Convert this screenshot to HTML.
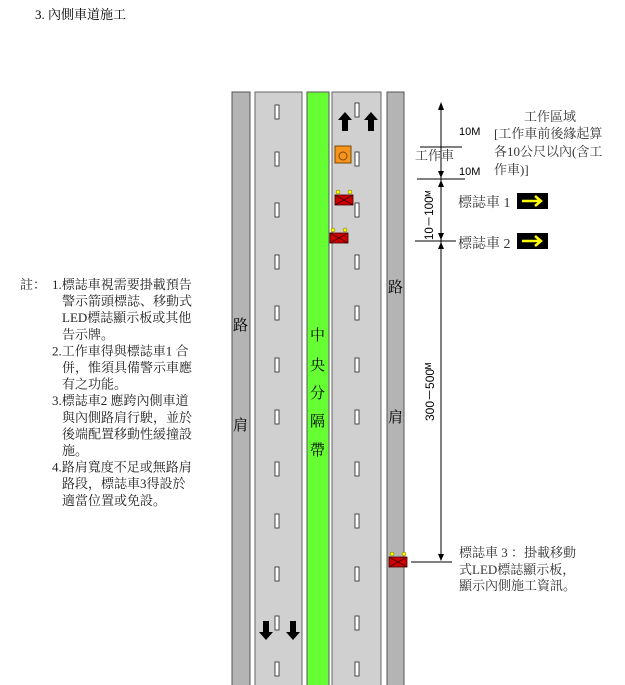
<!DOCTYPE html>
<html><head><meta charset="utf-8"><style>body{margin:0;background:#fff}svg{display:block}text{font-family:"Liberation Serif","Noto Serif CJK SC","Noto Sans CJK TC",serif}</style></head><body>
<svg width="625" height="685" viewBox="0 0 625 685" xmlns="http://www.w3.org/2000/svg">
<text x="35" y="19" font-size="13">3. 內側車道施工</text>
<rect x="232" y="92" width="18" height="600" fill="#b4b4b4" stroke="#555"/>
<rect x="255" y="92" width="47" height="600" fill="#d0d0d0" stroke="#666"/>
<rect x="307" y="92" width="22" height="600" fill="#66ff33" stroke="#555"/>
<rect x="332" y="92" width="49" height="600" fill="#d0d0d0" stroke="#666"/>
<rect x="387" y="92" width="17" height="600" fill="#b4b4b4" stroke="#555"/>
<g fill="#fff" stroke="#222" stroke-width="0.8">
<rect x="275" y="105" width="4" height="14"/><rect x="275" y="152" width="4" height="14"/><rect x="275" y="203" width="4" height="14"/><rect x="275" y="255" width="4" height="14"/><rect x="275" y="306" width="4" height="14"/><rect x="275" y="358" width="4" height="14"/><rect x="275" y="410" width="4" height="14"/><rect x="275" y="462" width="4" height="14"/><rect x="275" y="514" width="4" height="14"/><rect x="275" y="567" width="4" height="14"/><rect x="275" y="616" width="4" height="14"/><rect x="275" y="662" width="4" height="14"/>
<rect x="355" y="103" width="4" height="14"/><rect x="355" y="152" width="4" height="14"/><rect x="355" y="203" width="4" height="14"/><rect x="355" y="255" width="4" height="14"/><rect x="355" y="306" width="4" height="14"/><rect x="355" y="358" width="4" height="14"/><rect x="355" y="410" width="4" height="14"/><rect x="355" y="462" width="4" height="14"/><rect x="355" y="514" width="4" height="14"/><rect x="355" y="567" width="4" height="14"/><rect x="355" y="616" width="4" height="14"/><rect x="355" y="662" width="4" height="14"/>
</g>
<g font-size="15">
<text x="233" y="330">路</text><text x="233" y="430">肩</text>
<text x="388" y="292">路</text><text x="388" y="422">肩</text>
<text x="310" y="340">中</text><text x="310" y="370">央</text><text x="310" y="398">分</text><text x="310" y="426">隔</text><text x="310" y="455">帶</text>
</g>
<g fill="#000">
<polygon points="345,112 352,120 348,120 348,131 342,131 342,120 338,120"/>
<polygon points="371,112 378,120 374,120 374,131 368,131 368,120 364,120"/>
<polygon points="266,640 273,632 269,632 269,621 263,621 263,632 259,632"/>
<polygon points="293,640 300,632 296,632 296,621 290,621 290,632 286,632"/>
</g>
<rect x="335" y="146" width="16" height="17" fill="#f7941d" stroke="#7a4a00"/>
<circle cx="343" cy="156" r="4" fill="none" stroke="#7a4a00"/>
<g stroke="#400" stroke-width="0.8">
<rect x="335" y="195" width="18" height="10" fill="#c00"/><path d="M335 195L353 205M353 195L335 205"/>
<rect x="330" y="233" width="18" height="10" fill="#c00"/><path d="M330 233L348 243M348 233L330 243"/>
<rect x="389" y="557" width="18" height="10" fill="#c00"/><path d="M389 557L407 567M407 557L389 567"/>
</g>
<g fill="#ff0" stroke="#660" stroke-width="0.5">
<circle cx="338" cy="192" r="2"/><circle cx="350" cy="192" r="2"/>
<circle cx="333" cy="230" r="2"/><circle cx="345" cy="230" r="2"/>
<circle cx="392" cy="554" r="2"/><circle cx="404" cy="554" r="2"/>
</g>
<g stroke="#000" stroke-width="1" fill="none">
<line x1="441" y1="105" x2="441" y2="560"/>
<line x1="420" y1="147" x2="462" y2="147"/>
<line x1="417" y1="179" x2="465" y2="179"/>
<line x1="415" y1="241" x2="456" y2="241"/>
<line x1="411" y1="562" x2="452" y2="562"/>
</g>
<g fill="#000">
<polygon points="441,102 438,110 444,110"/>
<polygon points="441,178 438,171 444,171"/><polygon points="441,180 438,187 444,187"/>
<polygon points="441,240 438,233 444,233"/><polygon points="441,242 438,249 444,249"/>
<polygon points="441,561 438,554 444,554"/>
</g>
<g font-size="11">
<text x="459" y="135" style="font-family:'Liberation Sans',sans-serif">10M</text>
<text x="459" y="175" style="font-family:'Liberation Sans',sans-serif">10M</text>
<text transform="translate(433,240) rotate(-90)" style="font-family:'Liberation Sans',sans-serif" font-size="11.5">10－100ᴹ</text>
<text transform="translate(434,421) rotate(-90)" style="font-family:'Liberation Sans',sans-serif" font-size="12">300－500ᴹ</text>
</g>
<g font-size="13" fill="#333">
<text x="415" y="160">工作車</text>
<text x="524" y="121">工作區域</text>
<text x="494" y="138">[工作車前後緣起算</text>
<text x="494" y="156">各10公尺以內(含工</text>
<text x="494" y="174">作車)]</text>
<text x="458" y="207" font-size="14">標誌車 1</text>
<text x="458" y="248" font-size="14">標誌車 2</text>
<text x="459" y="557">標誌車 3 ：掛載移動</text>
<text x="459" y="574">式LED標誌顯示板，</text>
<text x="459" y="590">顯示內側施工資訊。</text>
</g>
<rect x="517" y="193" width="31" height="16" fill="#000"/>
<path d="M522 201H540M535 196L541 201L535 206" stroke="#ff0" stroke-width="2.5" fill="none"/>
<rect x="517" y="233" width="31" height="16" fill="#000"/>
<path d="M522 241H540M535 236L541 241L535 246" stroke="#ff0" stroke-width="2.5" fill="none"/>
<g font-size="13" fill="#222">
<text x="20" y="289">註：</text>
<text x="52" y="289">1.標誌車視需要掛載預告</text>
<text x="62" y="305.6">警示箭頭標誌、移動式</text>
<text x="62" y="322.2">LED標誌顯示板或其他</text>
<text x="62" y="338.8">告示牌。</text>
<text x="52" y="355.4">2.工作車得與標誌車1 合</text>
<text x="62" y="372">併，惟須具備警示車應</text>
<text x="62" y="388.6">有之功能。</text>
<text x="52" y="405.2">3.標誌車2 應跨內側車道</text>
<text x="62" y="421.8">與內側路肩行駛，並於</text>
<text x="62" y="438.4">後端配置移動性緩撞設</text>
<text x="62" y="455">施。</text>
<text x="52" y="471.6">4.路肩寬度不足或無路肩</text>
<text x="62" y="488.2">路段，標誌車3得設於</text>
<text x="62" y="504.8">適當位置或免設。</text>
</g>
</svg>
</body></html>
